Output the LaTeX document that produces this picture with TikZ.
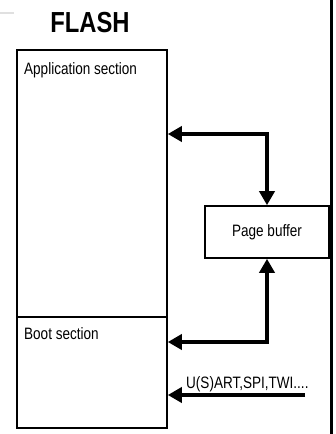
\documentclass[tikz,border=0pt]{standalone}
\usepackage{fontspec}
\setmainfont{Liberation Sans}[FakeStretch=0.82]
\usetikzlibrary{arrows.meta}
\tikzset{
  block/.style={draw, line width=1.6pt, inner sep=0pt, minimum width=150pt},
  label text/.style={inner sep=0pt, anchor=base west, font=\fontsize{16.5}{18}\selectfont},
  bus/.style={line width=3.6pt, {Triangle[length=14pt,width=15pt]}-{Triangle[length=14pt,width=15pt]}},
  feed/.style={line width=3.6pt, -{Triangle[length=14pt,width=15pt]}},
}
\begin{document}
\begin{tikzpicture}[x=1pt, y=-1pt]
  \useasboundingbox (0,0) rectangle (336,434);
  % small grey mark in the corner and the right border line
  \draw[line width=2.5pt, black!12] (0,13) -- (14,13);
  \draw[line width=2.2pt] (331.5,0) -- (331.5,434);

  % title
  \node[inner sep=0pt, anchor=base, font=\bfseries\fontsize{29}{32}\selectfont] (title) at (90,32) {FLASH};

  % flash memory sections
  \node[block, minimum height=267pt] (app) at (92,183.5) {};
  \node[block, minimum height=111pt] (boot) at (92,372.5) {};
  \node[label text] (applbl) at (24,74) {Application section};
  \node[label text] (bootlbl) at (24,339) {Boot section};

  % page buffer
  \node[draw, line width=1.6pt, minimum width=124pt, minimum height=52pt, inner sep=0pt,
        font=\fontsize{16.5}{18}\selectfont] (buf) at (267,232) {Page buffer};

  % data paths
  \coordinate (topturn) at (267,134);
  \coordinate (botturn) at (267,342);
  \draw[bus, line join=miter] (app.east |- topturn) -- (topturn) -- (buf.north);
  \draw[bus, line join=miter] (boot.east |- botturn) -- (botturn) -- (buf.south);

  % serial interfaces into the boot section
  \coordinate (ifsrc) at (305,395);
  \draw[feed] (ifsrc) -- (boot.east |- ifsrc);
  \node[label text] (iflbl) at (186,388) {U(S)ART,SPI,TWI....};
\end{tikzpicture}
\end{document}
